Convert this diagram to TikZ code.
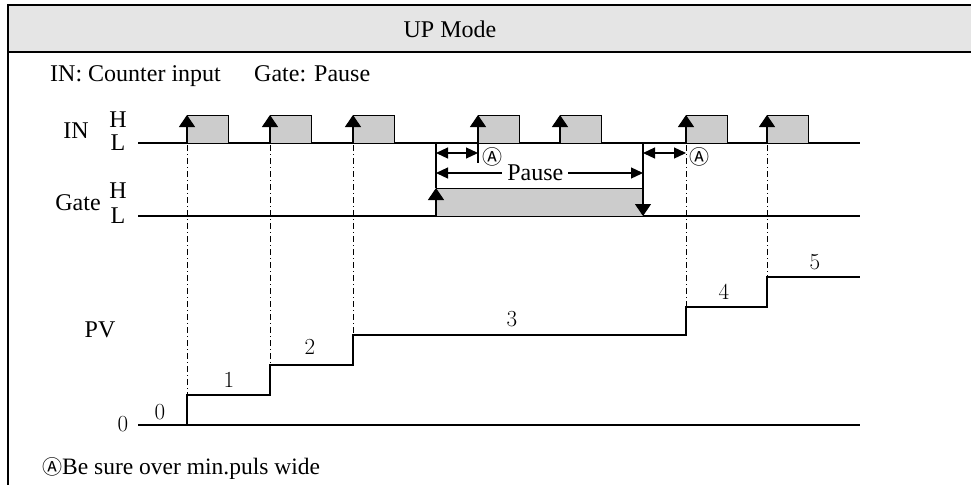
\documentclass[tikz,border=0pt]{standalone}
\usepackage{fontspec}
\newfontfamily\timesfont{Liberation Serif}
\newfontfamily\symfont{Noto Sans CJK JP}
\usetikzlibrary{arrows.meta}
\tikzset{
    sig/.style={line width=1.2pt},
    pulse/.style={draw,fill=black!20,line width=1pt},
    edge/.style={-{Triangle[length=12pt,width=16pt]},line width=1.2pt},
    guide/.style={line width=1pt,dash pattern=on 6pt off 3pt on 1pt off 3pt},
    span/.style={{Triangle[length=12pt,width=11pt]}-{Triangle[length=12pt,width=11pt]},line width=1.2pt},
    lbl/.style={font=\timesfont\fontsize{24}{28}\selectfont,inner sep=0pt},
    num/.style={font=\fontsize{23}{27}\selectfont,inner sep=0pt},
    mark A/.style={font=\symfont\fontsize{20}{23}\selectfont,inner sep=0pt}
}
\begin{document}
\begin{tikzpicture}[x=1pt,y=-1pt]
    \useasboundingbox (0,0) rectangle (971,485);
    \fill[black!10] (8,5) rectangle (971,52);
    \draw[line width=1.5pt] (971,5) -- (8,5) -- (8,485);
    \draw[line width=1.5pt] (8,52) -- (971,52);
    \node[lbl] (title) at (450,29) {UP Mode};
    \node[lbl,anchor=base west] (legendin) at (50,81) {IN: Counter input};
    \node[lbl,anchor=base west] (legendgate) at (254,81) {Gate: Pause};
    \node[lbl] (inname) at (76,131) {IN};
    \node[lbl] (inH) at (118,120) {H};
    \node[lbl] (inL) at (118,143) {L};
    \node[lbl] (gatename) at (78,203) {Gate};
    \node[lbl] (gateH) at (118,191) {H};
    \node[lbl] (gateL) at (118,216) {L};
    \node[lbl] (pvname) at (100,330) {PV};
    \node[num] (zero) at (123,424) {0};
    \draw[sig] (138,143) coordinate (inA) -- (860,143) coordinate (inB);
    \draw[sig] (138,216) coordinate (gateA) -- (860,216) coordinate (gateB);
    \draw[sig] (138,425) coordinate (pvA) -- (860,425) coordinate (pvB);
    \foreach \x in {187,270,353,478,560,686,767}{
        \draw[pulse] (\x,143) rectangle (\x+41,115);
        \draw[edge] (\x,143) -- (\x,115);
    }
    \draw[pulse] (436,216) rectangle (643,188);
    \draw[edge] (436,216) -- (436,188);
    \draw[edge] (643,188) -- (643,216);
    \draw[sig] (436,143) -- (436,188);
    \draw[sig] (643,143) -- (643,188);
    \draw[sig] (478,143) -- (478,163);
    \draw[span] (436,153) -- (478,153);
    \draw[span] (643,153) -- (686,153);
    \draw[span] (436,173) -- node[lbl,fill=white,inner xsep=5pt,pos=0.48]{Pause} (643,173);
    \node[mark A] (markone) at (492,157) {Ⓐ};
    \node[mark A] (marktwo) at (699,157) {Ⓐ};
    \foreach \x/\y in {187/395,270/365,353/335,686/307,767/277}
        \draw[guide] (\x,145) -- (\x,\y);
    \draw[sig] (187,425) -- (187,395) -- (270,395) -- (270,365) -- (353,365)
        -- (353,335) -- (686,335) -- (686,307) -- (767,307) -- (767,277) -- (860,277);
    \node[num] (cnt0) at (160,412) {0};
    \node[num] (cnt1) at (229,380) {1};
    \node[num] (cnt2) at (310,347) {2};
    \node[num] (cnt3) at (512,319) {3};
    \node[num] (cnt4) at (724,292) {4};
    \node[num] (cnt5) at (815,262) {5};
    \node[anchor=base west,inner sep=0pt] (note) at (42,474)
        {{\symfont\fontsize{20}{23}\selectfont Ⓐ}\timesfont\fontsize{23.5}{28}\selectfont Be sure over min.puls wide};
\end{tikzpicture}
\end{document}
